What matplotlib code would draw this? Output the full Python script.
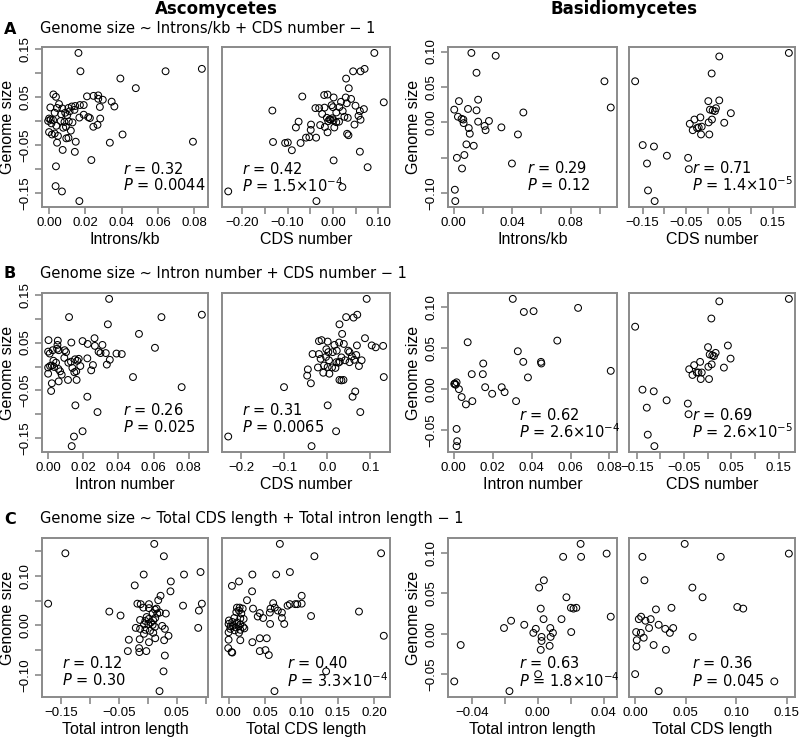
import numpy as np
import matplotlib
matplotlib.use("Agg")
import matplotlib.pyplot as plt

# ---- data (partial residuals) ----
# Row A, Ascomycetes, Introns/kb
a_asc_int_x = [0.0162, 0.0173, 0.0642, 0.0842, 0.0393, 0.0478, 0.0024, 0.0038, 0.0209, 0.0245,
               0.0271, 0.0271, 0.0296, 0.0345, 0.036, 0.028, 0.0055, 0.0007, 0.0044, 0.0073,
               0.0107, 0.0125, 0.0144, 0.017, 0.0191, 0.014, 0.0113, 0.0089, 0.0031, 0.0067,
               0.010, 0.0191, 0.0216, 0.0225, 0.0167, 0.0282, 0.0, 0.0009, 0.0022, -0.0005,
               0.0064, 0.0085, 0.0109, 0.0129, 0.0013, 0.004, 0.0078, 0.0093, 0.0244, 0.0267,
               0.012, 0.0, 0.0016, 0.0031, 0.0049, 0.0095, 0.0107, 0.0044, 0.0147, 0.0405,
               0.0335, 0.0793, 0.0075, 0.0142, 0.0233, 0.0038, 0.0036, 0.0071, 0.0167]
a_asc_int_y = [0.141, 0.103, 0.103, 0.108, 0.088, 0.068, 0.055, 0.050, 0.051, 0.052,
               0.053, 0.046, 0.044, 0.040, 0.030, 0.029, 0.035, 0.028, 0.027, 0.026,
               0.027, 0.030, 0.031, 0.033, 0.033, 0.023, 0.020, 0.017, 0.017, 0.014,
               0.012, 0.013, 0.008, 0.006, 0.007, 0.005, 0.005, 0.003, 0.002, 0.0,
               0.0, -0.002, -0.001, -0.003, -0.005, -0.010, -0.014, -0.012, -0.012, -0.008,
               -0.020, -0.023, -0.028, -0.026, -0.031, -0.036, -0.035, -0.045, -0.043, -0.028,
               -0.045, -0.043, -0.060, -0.064, -0.081, -0.094, -0.135, -0.146, -0.166]

# Row A, Ascomycetes, CDS number
a_asc_cds_x = [0.0913, 0.0445, 0.0609, 0.0698, 0.029, 0.0349, -0.0676, 0.1121, -0.1336, -0.0193,
               -0.0119, 0.0015, 0.0282, 0.040, 0.0178, -0.0386, -0.0304, -0.0186, -0.003, 0.0141,
               0.0, 0.0304, 0.0497, 0.0683, 0.0594, 0.0215, 0.0074, -0.0238, -0.0757, -0.0817,
               -0.0483, -0.0282, -0.0134, -0.0074, -0.0052, -0.0015, 0.0015, -0.0104, 0.0074, 0.0134,
               0.0252, 0.0327, 0.0564, 0.0475, 0.0609, -0.0178, 0.003, -0.049, -0.052, -0.0594,
               -0.0371, -0.0119, 0.0312, 0.0342, -0.0713, -0.1054, -0.0995, -0.1321, -0.0906, 0.0594,
               0.0015, 0.0765, -0.2309, 0.0208, -0.0364]
a_asc_cds_y = [0.140, 0.102, 0.102, 0.107, 0.087, 0.067, 0.050, 0.038, 0.021, 0.053,
               0.054, 0.048, 0.048, 0.045, 0.039, 0.026, 0.026, 0.027, 0.032, 0.028,
               0.028, 0.036, 0.031, 0.024, 0.020, 0.020, 0.017, 0.014, -0.002, -0.014,
               -0.008, -0.009, 0.006, 0.003, 0.002, 0.005, 0.001, -0.001, -0.003, -0.002,
               0.008, 0.006, 0.010, -0.008, 0.002, -0.013, -0.014, -0.019, -0.034, -0.035,
               -0.035, -0.024, -0.027, -0.030, -0.046, -0.046, -0.045, -0.044, -0.061, -0.064,
               -0.082, -0.096, -0.146, -0.137, -0.166]

# Row A, Basidiomycetes, Introns/kb
a_bas_int_x = [0.0122, 0.0288, 0.0157, 0.1031, 0.1074, 0.0037, 0.0005, 0.0168, 0.0157, 0.0099,
               0.0477, 0.003, 0.0055, 0.0067, 0.0069, 0.0168, 0.0242, 0.0104, 0.0212, 0.0219,
               0.0327, 0.0111, 0.044, 0.0088, 0.0138, 0.0023, 0.0074, 0.0058, 0.0399, 0.0009,
               0.0012]
a_bas_int_y = [0.098, 0.094, 0.070, 0.058, 0.021, 0.030, 0.018, 0.032, 0.017, 0.019,
               0.014, 0.008, 0.005, 0.004, -0.001, 0.001, 0.002, -0.008, -0.005, -0.011,
               -0.007, -0.016, -0.017, -0.031, -0.033, -0.050, -0.046, -0.065, -0.058, -0.095,
               -0.111]

# Row A, Basidiomycetes, CDS number
a_bas_cds_x = [0.187, -0.167, 0.0267, 0.0092, 0.0015, 0.0267, 0.0053, 0.0115, 0.0168, 0.0191,
               -0.0168, -0.0305, -0.0412, -0.0244, -0.0206, -0.0137, -0.0344, -0.0153, 0.0038, 0.0023,
               0.0099, 0.0382, 0.0534, -0.1496, -0.1237, -0.1397, -0.0939, -0.045, -0.0435, -0.1374,
               -0.1221]
a_bas_cds_y = [0.098, 0.058, 0.093, 0.069, 0.030, 0.031, 0.018, 0.017, 0.016, 0.020,
               0.007, 0.004, -0.002, -0.008, -0.007, -0.006, -0.011, -0.017, -0.017, 0.000,
               0.004, -0.0005, 0.013, -0.032, -0.034, -0.058, -0.047, -0.050, -0.066, -0.096,
               -0.111]

# Row B, Ascomycetes, Intron number
b_asc_int_x = [0.0347, 0.0119, 0.0645, 0.0875, 0.034, 0.0517, 0.0608, 0.0002, 0.0055, 0.0053,
               0.0132, 0.0196, 0.0225, 0.0264, 0.0266, 0.0309, 0.0051, 0.006, 0.0, 0.0009,
               0.0026, 0.0094, 0.0102, 0.0287, 0.0298, 0.0328, 0.0389, 0.0419, 0.0223, 0.0351,
               0.0334, 0.0255, 0.0245, 0.0092, 0.0115, 0.013, 0.0153, 0.0166, 0.0174, 0.0183,
               0.0138, 0.003, 0.0045, 0.0, 0.0011, 0.0021, 0.0034, 0.0, 0.0058, 0.0068,
               0.0077, 0.0149, 0.016, 0.0113, 0.0162, 0.006, 0.0021, 0.0017, 0.0483, 0.076,
               0.0223, 0.0155, 0.0281, 0.0196, 0.0147, 0.0134]
b_asc_int_y = [0.141, 0.103, 0.103, 0.108, 0.088, 0.068, 0.039, 0.055, 0.054, 0.045,
               0.050, 0.053, 0.047, 0.059, 0.043, 0.045, 0.037, 0.034, 0.031, 0.027,
               0.034, 0.034, 0.030, 0.031, 0.028, 0.028, 0.027, 0.026, 0.017, 0.014,
               0.004, 0.003, -0.008, 0.018, 0.008, 0.010, 0.015, 0.012, 0.016, 0.001,
               -0.003, 0.012, 0.008, -0.002, 0.001, 0.002, -0.001, -0.015, -0.005, -0.010,
               -0.017, -0.012, -0.010, -0.028, -0.028, -0.031, -0.035, -0.051, -0.022, -0.043,
               -0.063, -0.081, -0.095, -0.135, -0.146, -0.166]

# Row B, Ascomycetes, CDS number
b_asc_cds_x = [0.0912, 0.0436, 0.0608, 0.0694, 0.0281, 0.0343, 0.0873, -0.0195, -0.0133, 0.0008,
               0.0273, 0.0382, 0.0164, 0.0686, 0.1029, 0.1122, 0.1294, -0.0343, -0.0195, -0.0023,
               0.0125, 0.0023, 0.0218, 0.0483, 0.0514, 0.067, 0.0569, 0.0327, -0.0156, -0.0031,
               0.0039, 0.021, 0.0257, 0.0288, 0.0413, 0.0514, 0.0624, 0.0795, 0.0733, -0.0218,
               -0.0078, 0.0008, 0.0109, 0.0187, -0.0094, 0.0047, -0.0452, -0.0468, -0.0382, 0.0281,
               0.0327, 0.0374, 0.1309, -0.1005, 0.0647, 0.0585, 0.0008, 0.0764, -0.2299, 0.0203,
               -0.0366]
b_asc_cds_y = [0.141, 0.103, 0.102, 0.108, 0.088, 0.068, 0.059, 0.053, 0.055, 0.052,
               0.050, 0.047, 0.045, 0.044, 0.044, 0.040, 0.043, 0.026, 0.026, 0.036,
               0.030, 0.030, 0.033, 0.033, 0.030, 0.024, 0.021, 0.019, 0.016, 0.020,
               0.013, 0.009, 0.008, 0.010, 0.013, 0.009, 0.014, 0.013, 0.001, -0.002,
               0.002, -0.001, -0.002, -0.003, -0.013, -0.015, -0.006, -0.019, -0.035, -0.028,
               -0.029, -0.028, -0.022, -0.043, -0.052, -0.063, -0.081, -0.095, -0.146, -0.135,
               -0.166]

# Row B, Basidiomycetes, Intron number
b_bas_int_x = [0.0303, 0.036, 0.041, 0.0639, 0.0071, 0.0532, 0.0329, 0.0151, 0.0357, 0.0448,
               0.045, 0.0092, 0.0149, 0.0381, 0.0807, 0.0005, 0.0014, 0.0009, 0.0002, 0.0026,
               0.0161, 0.0246, 0.004, 0.0062, 0.0095, 0.0197, 0.0261, 0.032, 0.0014, 0.0017,
               0.0014]
b_bas_int_y = [0.110, 0.094, 0.095, 0.099, 0.057, 0.059, 0.046, 0.031, 0.033, 0.033,
               0.031, 0.018, 0.018, 0.014, 0.022, 0.0065, 0.008, 0.005, 0.006, -0.0004,
               0.002, 0.002, -0.010, -0.019, -0.015, -0.006, -0.004, -0.015, -0.049, -0.064,
               -0.070]

# Row B, Basidiomycetes, CDS number
b_bas_cds_x = [-0.1535, 0.1717, 0.0245, 0.0077, 0.0007, 0.0427, 0.0042, 0.0098, 0.0133, 0.0168,
               0.0484, -0.0161, -0.0287, -0.0392, -0.0231, -0.0196, -0.0126, -0.0322, -0.0147, 0.0028,
               0.0014, 0.0084, 0.0343, -0.138, -0.1142, -0.1289, -0.0869, -0.042, -0.0406, -0.1268,
               -0.1128]
b_bas_cds_y = [0.076, 0.110, 0.107, 0.086, 0.051, 0.053, 0.042, 0.041, 0.040, 0.044,
               0.037, 0.033, 0.029, 0.024, 0.020, 0.020, 0.020, 0.017, 0.012, 0.012,
               0.027, 0.030, 0.026, -0.001, -0.003, -0.023, -0.014, -0.018, -0.031, -0.056,
               -0.070]

# Row C, Ascomycetes, Total intron length
c_asc_int_x = [0.0114, -0.1421, 0.028, 0.0913, 0.0628, -0.0068, 0.040, -0.0223, 0.0394, 0.0223,
               0.0183, -0.1718, 0.0936, 0.0611, 0.0885, 0.0873, -0.0662, -0.0468, -0.0177, -0.012,
               -0.0074, 0.0023, 0.0023, 0.0126, 0.0154, 0.0086, 0.0166, 0.0211, 0.0314, -0.0131,
               -0.0017, -0.004, 0.0017, 0.0057, 0.0097, 0.0131, -0.0063, 0.0011, 0.0086, 0.0126,
               0.0251, -0.0205, -0.0131, -0.004, 0.004, 0.0097, -0.0063, 0.0297, 0.036, -0.0325,
               -0.0137, 0.0023, 0.0131, 0.0285, -0.0342, -0.0148, -0.0143, -0.0023, 0.0297, 0.0274,
               0.0205]
c_asc_int_y = [0.165, 0.146, 0.140, 0.108, 0.103, 0.103, 0.089, 0.081, 0.069, 0.060,
               0.051, 0.044, 0.044, 0.040, 0.030, -0.005, 0.028, 0.020, 0.044, 0.043,
               0.036, 0.043, 0.035, 0.032, 0.034, 0.025, 0.024, 0.026, 0.024, 0.011,
               0.017, 0.009, 0.013, 0.006, 0.010, 0.015, 0.002, 0.003, 0.001, -0.003,
               -0.001, -0.005, -0.007, -0.009, -0.011, -0.015, -0.017, -0.007, -0.021, -0.029,
               -0.028, -0.034, -0.026, -0.030, -0.052, -0.046, -0.054, -0.052, -0.061, -0.093,
               -0.133]

# Row C, Ascomycetes, Total CDS length
c_asc_cds_x = [0.0705, 0.2097, 0.118, 0.0327, 0.0654, 0.0843, 0.0143, 0.0046, 0.0323, 0.0253,
               0.0613, 0.0636, 0.0677, 0.0733, 0.0576, 0.0567, 0.0429, 0.0401, 0.0475, 0.0733,
               0.0765, 0.0571, 0.0811, 0.0843, 0.0917, 0.0945, 0.1005, 0.1005, 0.1134, 0.1793,
               0.2134, 0.0336, 0.0115, 0.0152, 0.0194, 0.0106, 0.0143, 0.0175, 0.0078, 0.0161,
               0.0207, 0.0005, 0.0051, 0.0115, 0.0161, 0.0, 0.0028, 0.006, 0.0097, 0.0138,
               0.0198, 0.0023, 0.0083, 0.0161, 0.0217, 0.0, 0.0143, 0.0, 0.0161, 0.0327,
               0.0429, 0.0525, -0.0005, 0.0041, 0.005, 0.0429, 0.0507, 0.0553, 0.1341, 0.0631]
c_asc_cds_y = [0.165, 0.146, 0.140, 0.103, 0.103, 0.108, 0.089, 0.080, 0.069, 0.051,
               0.045, 0.036, 0.030, 0.026, 0.034, 0.026, 0.025, 0.018, 0.015, 0.015,
               0.003, 0.003, 0.040, 0.043, 0.043, 0.043, 0.060, 0.044, 0.019, 0.028,
               -0.021, 0.034, 0.036, 0.036, 0.034, 0.027, 0.030, 0.024, 0.015, 0.014,
               0.013, 0.010, 0.007, 0.006, 0.002, 0.003, -0.002, -0.001, -0.004, -0.002,
               -0.003, -0.007, -0.010, -0.009, -0.006, -0.014, -0.015, -0.029, -0.030, -0.034,
               -0.026, -0.026, -0.046, -0.054, -0.055, -0.052, -0.050, -0.060, -0.093, -0.133]

# Row C, Basidiomycetes, Total intron length
c_bas_int_x = [0.026, 0.0154, 0.0263, 0.0418, 0.0037, 0.0008, 0.0174, 0.0018, 0.0201, 0.0217,
               0.0234, 0.0035, 0.0144, 0.0443, -0.0162, -0.0205, -0.0082, -0.0012, 0.0076, -0.0027,
               0.0092, 0.0203, 0.0023, 0.0078, 0.0023, 0.0072, 0.0018, -0.0468, 0.0002, -0.0507,
               -0.0172]
c_bas_int_y = [0.111, 0.095, 0.095, 0.099, 0.066, 0.057, 0.045, 0.031, 0.032, 0.031,
               0.032, 0.018, 0.018, 0.021, 0.016, 0.007, 0.011, 0.006, 0.007, 0.001,
               0.001, 0.002, -0.004, -0.004, -0.009, -0.015, -0.020, -0.014, -0.050, -0.059,
               -0.071]

# Row C, Basidiomycetes, Total CDS length
c_bas_cds_x = [0.0491, 0.0072, 0.0848, 0.1523, 0.0092, 0.0567, 0.0668, 0.1012, 0.1071, 0.036,
               0.0206, 0.0059, 0.0036, 0.0102, 0.0154, 0.0138, 0.0233, 0.0298, 0.0377, 0.0344,
               0.001, 0.0056, 0.0016, 0.0085, 0.057, 0.0183, 0.0013, 0.0305, 0.0, 0.1379,
               0.0233]
c_bas_cds_y = [0.111, 0.095, 0.095, 0.099, 0.066, 0.057, 0.045, 0.033, 0.031, 0.032,
               0.030, 0.021, 0.018, 0.016, 0.018, 0.007, 0.011, 0.006, 0.007, 0.001,
               0.002, 0.001, -0.008, -0.005, -0.004, -0.014, -0.016, -0.020, -0.050, -0.059,
               -0.071]

# correlation text for each panel
stats = {
    "a_asc_int": ("0.32", "0.0044"), "a_asc_cds": ("0.42", r"1.5×10$^{-4}$"),
    "a_bas_int": ("0.29", "0.12"), "a_bas_cds": ("0.71", r"1.4×10$^{-5}$"),
    "b_asc_int": ("0.26", "0.025"), "b_asc_cds": ("0.31", "0.0065"),
    "b_bas_int": ("0.62", r"2.6×10$^{-4}$"), "b_bas_cds": ("0.69", r"2.6×10$^{-5}$"),
    "c_asc_int": ("0.12", "0.30"), "c_asc_cds": ("0.40", r"3.3×10$^{-4}$"),
    "c_bas_int": ("0.63", r"1.8×10$^{-4}$"), "c_bas_cds": ("0.36", "0.045"),
}

W, H = 800, 739
fig = plt.figure(figsize=(W / 100, H / 100), dpi=100)
FRAME = "#8a8a8a"
TICKFONT = "Liberation Sans"


def fmt(v, nd):
    s = f"{v:.{nd}f}"
    if s.startswith("-"):
        s = "\u2212" + s[1:]
    return s


def make_ticks(ticks, shown, nd):
    labels = []
    for t in ticks:
        if any(abs(t - s) < 1e-9 for s in shown):
            labels.append(fmt(t, nd))
        else:
            labels.append("")
    return labels


def panel(box, x, y, xlabel, xt, xs, xnd, key, txt_pos, yt=None, ys=None, ynd=2):
    x0, x1, y0, y1 = box
    ax = fig.add_axes([x0 / W, 1 - y1 / H, (x1 - x0) / W, (y1 - y0) / H])
    ax.scatter(x, y, s=24, facecolors="none", edgecolors="black", linewidths=0.75, zorder=3)
    xlo, xhi = min(x), max(x)
    ylo, yhi = min(y), max(y)
    px = 0.04 * (xhi - xlo)
    py = 0.04 * (yhi - ylo)
    ax.set_xticks(xt)
    ax.set_xticklabels(make_ticks(xt, xs, xnd), fontsize=9.5, family=TICKFONT)
    if yt is not None:
        ax.set_yticks(yt)
        ax.set_yticklabels(make_ticks(yt, ys, ynd), fontsize=9.5, family=TICKFONT,
                           rotation=90, va="center")
        ax.set_ylabel("Genome size", fontsize=11.5, family=TICKFONT, labelpad=3)
    else:
        ax.set_yticks([])
    ax.set_xlim(xlo - px, xhi + px)
    ax.set_ylim(ylo - py, yhi + py)
    ax.set_xlabel(xlabel, fontsize=11.5, family=TICKFONT, labelpad=2)
    for sp in ax.spines.values():
        sp.set_color(FRAME)
        sp.set_linewidth(1.4)
    ax.tick_params(direction="out", length=5, width=1.2, color=FRAME, pad=2.5)
    r, p = stats[key]
    tx, ty_r, ty_p = txt_pos
    ax.text(tx, ty_r, r"$r$ = " + r, transform=ax.transAxes, fontsize=10.5, va="center")
    ax.text(tx, ty_p, r"$P$ = " + p, transform=ax.transAxes, fontsize=10.5, va="center")
    return ax


COLS = [(42, 208), (222, 390), (448, 617), (629, 795)]
ROWS = [(47, 207), (293, 452), (538, 697)]


def box(c, r):
    return (COLS[c][0], COLS[c][1], ROWS[r][0], ROWS[r][1])


t05 = [-0.15, -0.10, -0.05, 0.0, 0.05, 0.10, 0.15]

# Row A
panel(box(0, 0), a_asc_int_x, a_asc_int_y, "Introns/kb",
      [0, 0.02, 0.04, 0.06, 0.08], [0, 0.02, 0.04, 0.06, 0.08], 2, "a_asc_int",
      (0.49, 0.24, 0.135), t05, [-0.15, -0.05, 0.05, 0.15])
panel(box(1, 0), a_asc_cds_x, a_asc_cds_y, "CDS number",
      [-0.20, -0.15, -0.10, -0.05, 0, 0.05, 0.10], [-0.20, -0.10, 0, 0.10], 2, "a_asc_cds",
      (0.12, 0.24, 0.135))
panel(box(2, 0), a_bas_int_x, a_bas_int_y, "Introns/kb",
      [0, 0.02, 0.04, 0.06, 0.08, 0.10], [0, 0.04, 0.08], 2, "a_bas_int",
      (0.47, 0.245, 0.14), [-0.10, -0.05, 0, 0.05, 0.10], [-0.10, 0, 0.05, 0.10])
panel(box(3, 0), a_bas_cds_x, a_bas_cds_y, "CDS number",
      [-0.15, -0.10, -0.05, 0, 0.05, 0.10, 0.15], [-0.15, -0.05, 0.05, 0.15], 2, "a_bas_cds",
      (0.38, 0.245, 0.14))

# Row B
panel(box(0, 1), b_asc_int_x, b_asc_int_y, "Intron number",
      [0, 0.02, 0.04, 0.06, 0.08], [0, 0.02, 0.04, 0.06, 0.08], 2, "b_asc_int",
      (0.49, 0.265, 0.16), t05, [-0.15, -0.05, 0.05, 0.15])
panel(box(1, 1), b_asc_cds_x, b_asc_cds_y, "CDS number",
      [-0.2, -0.1, 0.0, 0.1], [-0.2, -0.1, 0.0, 0.1], 1, "b_asc_cds",
      (0.12, 0.265, 0.16))
panel(box(2, 1), b_bas_int_x, b_bas_int_y, "Intron number",
      [0, 0.02, 0.04, 0.06, 0.08], [0, 0.02, 0.04, 0.06, 0.08], 2, "b_bas_int",
      (0.42, 0.235, 0.13), [-0.05, 0, 0.05, 0.10], [-0.05, 0, 0.05, 0.10])
panel(box(3, 1), b_bas_cds_x, b_bas_cds_y, "CDS number",
      [-0.15, -0.10, -0.05, 0, 0.05, 0.10, 0.15], [-0.15, -0.05, 0.05, 0.15], 2, "b_bas_cds",
      (0.38, 0.235, 0.13))

# Row C
panel(box(0, 2), c_asc_int_x, c_asc_int_y, "Total intron length",
      [-0.15, -0.10, -0.05, 0, 0.05, 0.10], [-0.15, -0.05, 0.05], 2, "c_asc_int",
      (0.12, 0.215, 0.105), t05, [-0.10, 0, 0.10])
panel(box(1, 2), c_asc_cds_x, c_asc_cds_y, "Total CDS length",
      [0, 0.05, 0.10, 0.15, 0.20], [0, 0.05, 0.10, 0.15, 0.20], 2, "c_asc_cds",
      (0.385, 0.215, 0.105))
panel(box(2, 2), c_bas_int_x, c_bas_int_y, "Total intron length",
      [-0.04, -0.02, 0, 0.02, 0.04], [-0.04, 0, 0.04], 2, "c_bas_int",
      (0.42, 0.215, 0.10), [-0.05, 0, 0.05, 0.10], [-0.05, 0, 0.05, 0.10])
panel(box(3, 2), c_bas_cds_x, c_bas_cds_y, "Total CDS length",
      [0, 0.05, 0.10, 0.15], [0, 0.05, 0.10, 0.15], 2, "c_bas_cds",
      (0.38, 0.215, 0.10))

# headers and row titles
fig.text(216 / W, 1 - 9 / H, "Ascomycetes", ha="center", va="center",
         fontsize=12, fontweight="bold")
fig.text(624 / W, 1 - 9 / H, "Basidiomycetes", ha="center", va="center",
         fontsize=12, fontweight="bold")
titles = [("A", "Genome size ~ Introns/kb + CDS number \u2212 1", 29),
          ("B", "Genome size ~ Intron number + CDS number \u2212 1", 273),
          ("C", "Genome size ~ Total CDS length + Total intron length \u2212 1", 519)]
for letter, title, yy in titles:
    fig.text(10 / W, 1 - yy / H, letter, ha="center", va="center",
             fontsize=11.5, fontweight="bold")
    fig.text(40 / W, 1 - yy / H, title, ha="left", va="center", fontsize=10.5)

fig.savefig("out.png", dpi=100)
